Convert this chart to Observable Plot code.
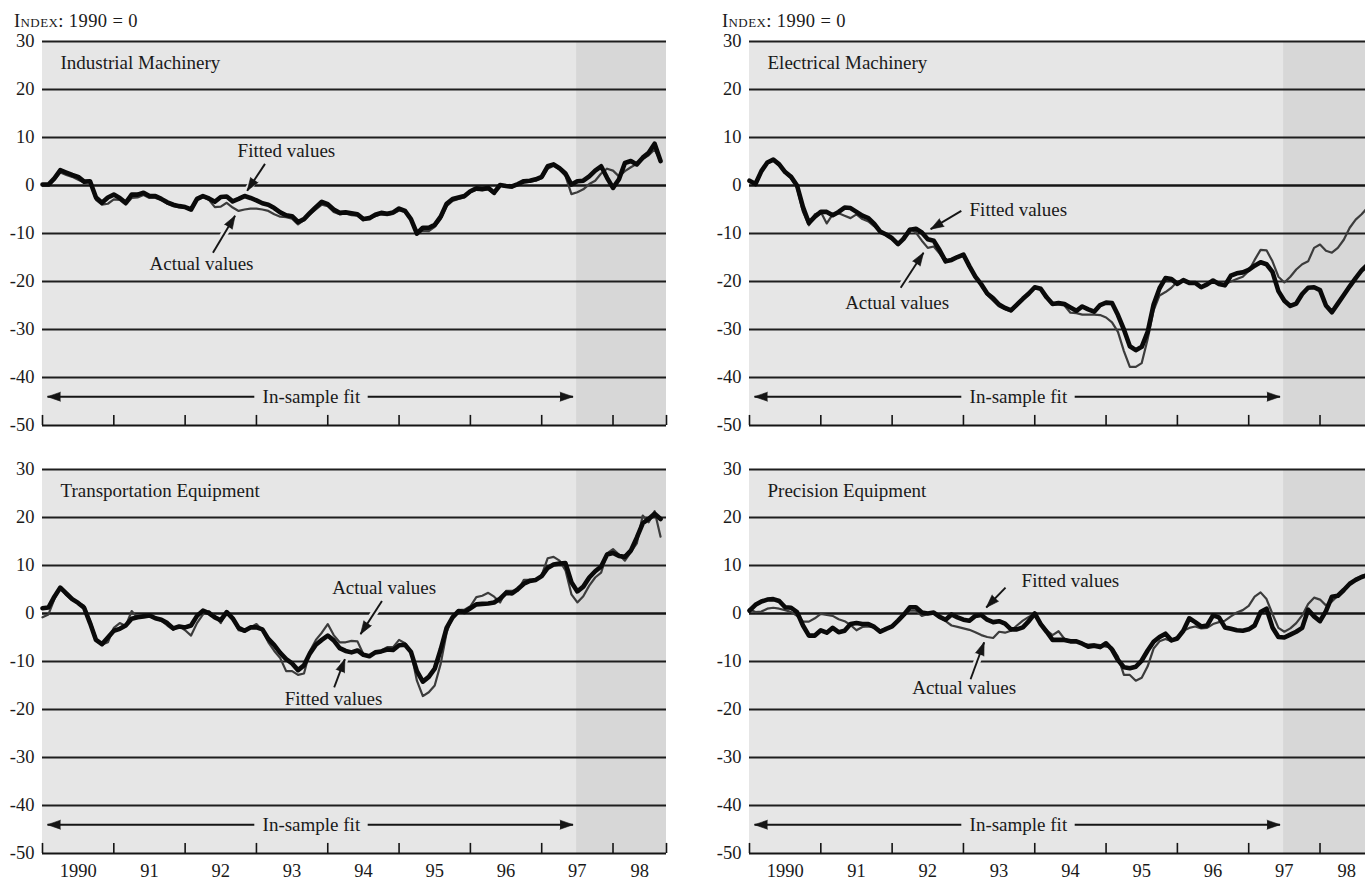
<!DOCTYPE html>
<html><head><meta charset="utf-8">
<script src="https://cdn.jsdelivr.net/npm/d3@7"></script>
<script src="https://cdn.jsdelivr.net/npm/@observablehq/plot@0.6"></script>
<style>
html,body{margin:0;padding:0;background:#fff;overflow:hidden;}
#chart{position:relative;width:1365px;height:880px;overflow:hidden;font-family:"Liberation Serif",serif;color:#1a1a1a;}
.panel{position:absolute;width:668px;}
.unit{position:absolute;font-size:18.5px;font-variant:small-caps;letter-spacing:0.4px;line-height:1;white-space:nowrap;}
</style></head><body><div id="chart"></div>
<script>
// ---- Data (monthly, Jan 1990 onwards) ----
const months = Array.from({length: 105}, (_, i) => 1990 + i / 12);

const industrialFitted = [0.2, 0.2, 1.5, 3.2, 2.7, 2.2, 1.8, 0.8, 0.9, -2.5, -3.6, -2.5,
 -1.9, -2.6, -3.6, -1.9, -1.9, -1.5, -2.2, -2.2, -2.8, -3.5, -4.0, -4.3,
 -4.5, -5.0, -2.8, -2.2, -2.7, -3.4, -2.4, -2.3, -3.3, -2.8, -2.2, -2.6,
 -3.1, -3.7, -4.0, -4.7, -5.6, -6.2, -6.4, -7.6, -7.0, -5.7, -4.5, -3.4,
 -3.9, -5.0, -5.7, -5.6, -5.8, -6.0, -7.0, -6.8, -6.1, -5.7, -5.9, -5.6,
 -4.8, -5.3, -7.0, -10.0, -8.8, -8.8, -8.2, -6.5, -3.8, -2.8, -2.5, -2.2,
 -1.2, -0.6, -0.7, -0.5, -1.5, 0.1, -0.1, -0.2, 0.3, 0.9, 1.0, 1.3,
 1.8, 4.0, 4.4, 3.6, 2.5, 0.2, 0.9, 1.0, 1.9, 3.1, 4.0, 1.6,
 -0.5, 1.3, 4.7, 5.1, 4.4, 5.8, 6.8, 8.7, 5.1];
const industrialActual = [0.0, 0.0, 1.2, 2.7, 2.2, 1.8, 1.2, 0.6, 0.8, -3.0, -4.0, -3.8,
 -2.9, -3.0, -4.0, -2.6, -2.5, -2.0, -2.6, -2.6, -3.0, -3.8, -4.3, -4.5,
 -4.6, -5.2, -3.1, -2.4, -3.0, -4.5, -4.4, -3.6, -4.6, -5.3, -5.0, -4.8,
 -4.8, -5.0, -5.3, -6.0, -6.5, -6.6, -6.9, -8.1, -7.2, -6.0, -5.0, -4.0,
 -4.3, -5.5, -6.0, -5.8, -6.2, -6.3, -7.2, -6.8, -6.4, -6.0, -6.2, -5.9,
 -5.2, -5.5, -7.2, -10.0, -9.4, -9.5, -8.6, -7.0, -4.3, -3.2, -2.8, -2.5,
 -1.4, -0.9, -1.0, -0.8, -1.8, 0.0, -0.3, -0.5, 0.2, 0.6, 0.8, 1.0,
 1.5, 3.5, 4.1, 3.4, 2.0, -1.8, -1.4, -0.8, 0.3, 1.0, 2.5, 3.5,
 3.1, 1.9, 3.0, 3.8, 4.5, 5.5, 6.3, 7.5, 5.0];

const electricalFitted = [1.0, 0.3, 3.0, 4.8, 5.4, 4.4, 2.8, 1.8, 0.0, -4.5, -7.8, -6.5,
 -5.5, -5.5, -6.2, -5.5, -4.6, -4.7, -5.5, -6.3, -6.8, -8.0, -9.6, -10.2,
 -11.0, -12.2, -11.0, -9.2, -9.0, -9.8, -11.2, -11.5, -13.5, -15.8, -15.5, -14.9,
 -14.4, -16.8, -19.0, -20.6, -22.5, -23.5, -24.8, -25.5, -26.0, -24.8, -23.6, -22.5,
 -21.2, -21.5, -23.3, -24.7, -24.5, -24.7, -25.4, -26.1, -25.2, -25.8, -26.3, -24.9,
 -24.4, -24.5, -27.0, -30.0, -33.5, -34.3, -33.6, -30.5, -24.8, -21.4, -19.3, -19.5,
 -20.5, -19.7, -20.3, -20.3, -21.2, -20.6, -19.8, -20.5, -20.8, -18.8, -18.3, -18.1,
 -17.6, -16.7, -16.0, -16.4, -18.0, -22.0, -24.0, -25.1, -24.6, -22.6, -21.3, -21.2,
 -21.8, -25.0, -26.4, -24.6, -22.8, -21.0, -19.3, -17.7, -16.5];
const electricalActual = [1.0, 0.0, 2.8, 4.6, 5.2, 4.2, 2.6, 1.5, -0.5, -5.5, -8.3, -6.0,
 -5.5, -7.9, -6.0, -5.8, -6.3, -6.8, -6.0, -7.0, -7.5, -8.5, -9.8, -10.3,
 -11.2, -12.4, -10.5, -9.0, -9.8, -11.5, -13.0, -12.7, -14.2, -16.0, -15.5, -15.0,
 -14.5, -17.0, -19.2, -20.8, -22.8, -24.0, -25.2, -25.8, -26.2, -25.0, -23.8, -22.6,
 -21.0, -21.8, -23.5, -24.8, -24.8, -25.0, -26.5, -26.6, -26.9, -26.9, -26.9, -27.0,
 -27.5, -28.5, -30.5, -34.5, -37.8, -37.8, -37.0, -32.0, -26.0, -22.9, -22.2, -21.3,
 -20.0, -19.8, -20.3, -20.2, -21.0, -20.5, -19.9, -20.6, -20.6, -20.0, -19.5, -19.0,
 -17.8, -15.5, -13.4, -13.5, -15.8, -19.0, -20.2, -19.0, -17.5, -16.4, -15.8, -13.0,
 -12.3, -13.6, -14.0, -13.0, -11.3, -8.8, -7.1, -6.0, -4.6];

const transportFitted = [1.1, 1.25, 3.5, 5.4, 4.2, 3.0, 2.2, 1.2, -2.0, -5.5, -6.4, -5.0,
 -3.6, -3.2, -2.5, -1.1, -0.8, -0.6, -0.4, -1.0, -1.3, -2.0, -3.1, -2.7,
 -2.9, -2.5, -0.5, 0.6, 0.1, -0.8, -1.4, 0.3, -1.0, -3.0, -3.6, -2.9,
 -2.9, -3.3, -5.3, -6.6, -8.2, -9.5, -10.4, -11.8, -10.8, -8.3, -6.5, -5.5,
 -4.6, -5.6, -7.2, -7.8, -8.1, -7.7, -8.6, -8.9, -8.1, -7.9, -7.5, -7.6,
 -6.6, -6.5, -8.0, -12.0, -14.2, -13.2, -11.5, -7.5, -3.0, -0.8, 0.5, 0.3,
 1.1, 1.9, 2.0, 2.1, 2.3, 3.1, 4.3, 4.2, 5.1, 6.2, 6.8, 7.0,
 7.8, 9.5, 10.2, 10.4, 10.5, 6.5, 4.6, 5.6, 7.5, 8.8, 9.8, 12.3,
 12.6, 12.0, 11.8, 13.1, 15.8, 18.8, 19.7, 20.8, 19.7];
const transportActual = [-0.8, -0.2, 3.0, 5.4, 3.8, 2.8, 2.3, 1.6, -1.5, -5.2, -6.5, -6.0,
 -3.0, -2.0, -2.6, 0.5, -0.9, -0.6, -0.5, -1.1, -1.5, -2.5, -3.4, -2.6,
 -3.5, -4.6, -2.0, -0.2, 0.5, -0.5, -2.0, 0.5, -1.0, -3.5, -3.8, -2.9,
 -2.2, -3.5, -6.0, -7.8, -9.3, -12.0, -12.0, -12.8, -12.5, -7.8, -5.5, -4.0,
 -2.2, -4.5, -6.0, -6.0, -5.7, -5.8, -8.5, -8.8, -8.0, -7.7, -7.0, -7.0,
 -5.5, -6.2, -8.0, -14.0, -17.2, -16.4, -15.0, -10.5, -4.0, -0.6, 0.7, 0.8,
 1.5, 3.4, 3.7, 4.3, 3.5, 2.3, 4.7, 4.7, 4.8, 7.0, 7.0, 6.8,
 8.0, 11.5, 11.8, 11.0, 9.0, 4.0, 2.3, 3.6, 5.8, 7.5, 8.5, 12.5,
 13.4, 12.3, 11.0, 12.8, 14.6, 20.4, 19.0, 21.3, 16.0];

const precisionFitted = [0.6, 1.8, 2.5, 2.9, 3.0, 2.6, 1.3, 1.2, 0.3, -2.5, -4.6, -4.6,
 -3.5, -4.0, -3.0, -3.9, -3.6, -2.2, -2.0, -2.2, -2.2, -2.8, -3.8, -3.2,
 -2.7, -1.5, -0.2, 1.3, 1.3, 0.2, 0.0, 0.2, -0.7, -1.3, -0.2, -0.8,
 -1.3, -1.5, -0.5, -0.3, -1.3, -1.8, -1.6, -2.1, -3.3, -3.3, -2.9, -1.6,
 0.0, -2.2, -3.8, -5.5, -5.5, -5.5, -5.8, -5.8, -6.3, -6.9, -6.7, -7.0,
 -6.2, -7.5, -9.7, -11.2, -11.4, -11.1, -9.8, -7.7, -5.9, -4.9, -4.2, -5.6,
 -5.2, -3.6, -1.0, -1.8, -2.7, -2.5, -0.4, -0.8, -2.9, -3.2, -3.5, -3.6,
 -3.3, -2.5, 0.3, 1.0, -2.9, -4.9, -5.0, -4.4, -3.8, -3.0, 0.8, -0.6,
 -1.6, 0.5, 3.5, 3.7, 4.9, 6.2, 7.0, 7.6, 8.0];
const precisionActual = [0.9, 0.3, 0.4, 1.0, 1.2, 1.0, 0.7, 0.3, -0.5, -1.7, -1.7, -1.0,
 -0.1, -0.3, -0.5, -1.2, -1.6, -2.4, -3.5, -2.8, -2.7, -2.9, -3.5, -3.1,
 -2.5, -1.5, -0.2, 0.6, 0.6, -0.5, -0.1, 0.2, -0.8, -1.6, -2.5, -2.8,
 -3.1, -3.4, -3.9, -4.5, -4.9, -5.1, -3.8, -4.0, -3.6, -2.5, -1.5, -0.7,
 0.0, -1.9, -3.5, -4.5, -3.7, -5.3, -5.7, -5.7, -6.2, -6.5, -6.4, -6.6,
 -6.9, -7.1, -9.0, -12.8, -12.8, -14.0, -13.4, -11.0, -7.3, -5.8, -5.3, -5.8,
 -4.8, -3.6, -3.0, -2.7, -3.1, -3.0, -2.2, -1.8, -1.5, -0.6, 0.2, 0.7,
 1.6, 3.5, 4.4, 3.0, -0.1, -3.0, -3.8, -3.1, -2.0, -0.4, 2.0, 3.3,
 2.9, 1.7, 2.5, 3.7, 4.6, 6.2, 7.2, 7.8, 8.2];

const panelTitles = ["Industrial Machinery", "Electrical Machinery", "Transportation Equipment", "Precision Equipment"];
const yTicks = [30, 20, 10, 0, -10, -20, -30, -40, -50];
const yearTicks = [1990, 1991, 1992, 1993, 1994, 1995, 1996, 1997, 1998, 1998.75];
const yearLabelPos = [1990.5, 1991.5, 1992.5, 1993.5, 1994.5, 1995.5, 1996.5, 1997.5, 1998.375];
const yearLabels = ["1990", "91", "92", "93", "94", "95", "96", "97", "98"];
const unitLabel = "Index: 1990 = 0";
const sampleLabel = "In-sample fit";

// annotations in data units: label centre (tx, ty), arrow from (x1,y1) to tip (x2,y2)
const industrialNotes = [
  {label: "Fitted values", tx: 1993.42, ty: 7.25, x1: 1993.12, y1: 4.5, x2: 1992.87, y2: -1.1},
  {label: "Actual values", tx: 1992.23, ty: -16.3, x1: 1992.39, y1: -14.0, x2: 1992.70, y2: -6.3}];
const electricalNotes = [
  {label: "Fitted values", tx: 1993.77, ty: -5.0, x1: 1992.97, y1: -5.3, x2: 1992.54, y2: -9.1},
  {label: "Actual values", tx: 1992.07, ty: -24.4, x1: 1992.12, y1: -21.3, x2: 1992.44, y2: -14.0}];
const transportNotes = [
  {label: "Actual values", tx: 1994.79, ty: 5.4, x1: 1994.76, y1: 2.6, x2: 1994.46, y2: -4.3},
  {label: "Fitted values", tx: 1994.08, ty: -17.8, x1: 1994.09, y1: -15.4, x2: 1994.24, y2: -9.5}];
const precisionNotes = [
  {label: "Fitted values", tx: 1994.50, ty: 6.8, x1: 1993.59, y1: 5.4, x2: 1993.32, y2: 1.25},
  {label: "Actual values", tx: 1993.01, ty: -15.6, x1: 1993.10, y1: -13.7, x2: 1993.29, y2: -6.0}];
const sampleArrows = [
  {x1: 1992.97, y1: -44, x2: 1990.07, y2: -44},
  {x1: 1994.56, y1: -44, x2: 1997.44, y2: -44}];
const sampleText = [{x: 1993.77, y: -44, t: sampleLabel}];
const xDomain = [1990, 1998.75];
const shadeStart = 1997.49;

// ---- drawing ----
const FW = 624, FH = 384, ML = 42;
const BG = "#e6e6e6", SHADE = "#d7d7d7", INK = "#151515";
const pxX = FW / (xDomain[1] - xDomain[0]), pxY = FH / 80;
const withRot = arr => arr.map(n => ({...n, rot: Math.atan2((n.x2 - n.x1) * pxX, (n.y2 - n.y1) * pxY) * 180 / Math.PI}));
const labelMap = new Map(yearLabelPos.map((p, i) => [p, yearLabels[i]]));

function panel(title, fitted, actual, notesRaw, bottom) {
  const fd = fitted.map((v, i) => ({date: months[i], value: v}));
  const ad = actual.map((v, i) => ({date: months[i], value: v}));
  const notes = withRot(notesRaw);
  const arrows = withRot(sampleArrows);
  const marginTop = bottom ? 29 : 41;
  const marginBottom = bottom ? 27 : 4;
  const marks = [
    Plot.rect([{a: xDomain[0], b: xDomain[1]}], {x1: "a", x2: "b", y1: -50, y2: 30, fill: BG}),
    Plot.rect([{a: shadeStart, b: xDomain[1]}], {x1: "a", x2: "b", y1: -50, y2: 30, fill: SHADE}),
    Plot.ruleY(yTicks.filter(v => v !== 0 && v !== -50), {stroke: "#1e1e1e", strokeWidth: 1.8}),
    Plot.ruleY([0], {stroke: INK, strokeWidth: 2.6}),
    Plot.ruleY([-50], {stroke: INK, strokeWidth: 2}),
    Plot.ruleX(yearTicks, {y1: -50, y2: -47.9, stroke: INK, strokeWidth: 1.6}),
    Plot.axisY(yTicks, {tickSize: 0, tickPadding: 8, tickFormat: d => String(d), fontSize: 18.5}),
    Plot.link(notes, {x1: "x1", y1: "y1", x2: "x2", y2: "y2", stroke: BG, strokeWidth: 7}),
    Plot.line(ad, {x: "date", y: "value", stroke: "#3c3c3c", strokeWidth: 2.2}),
    Plot.line(fd, {x: "date", y: "value", stroke: "#0a0a0a", strokeWidth: 4.6}),
    Plot.link(notes, {x1: "x1", y1: "y1", x2: "x2", y2: "y2", stroke: INK, strokeWidth: 1.9}),
    Plot.vector(notes, {x: "x2", y: "y2", rotate: "rot", length: 13, anchor: "end", shape: "spike", r: 4.5, fill: INK, stroke: INK, strokeWidth: 0.6}),
    Plot.text(notes, {x: "tx", y: "ty", text: "label", fontSize: 19, fill: "#1a1a1a"}),
    Plot.link(arrows, {x1: "x1", y1: "y1", x2: "x2", y2: "y2", stroke: INK, strokeWidth: 1.9}),
    Plot.vector(arrows, {x: "x2", y: "y2", rotate: "rot", length: 13, anchor: "end", shape: "spike", r: 4.5, fill: INK, stroke: INK, strokeWidth: 0.6}),
    Plot.text(sampleText, {x: "x", y: "y", text: "t", fontSize: 19, fill: "#1a1a1a"}),
    Plot.text([title], {frameAnchor: "top-left", dx: 18, dy: 21, textAnchor: "start", lineAnchor: "middle", fontSize: 19, fill: "#1a1a1a"})
  ];
  if (bottom) marks.push(Plot.axisX(yearLabelPos, {tickSize: 0, tickPadding: 10, tickFormat: d => labelMap.get(d), fontSize: 18.5}));
  return Plot.plot({
    width: ML + FW + 2,
    height: marginTop + FH + marginBottom,
    marginLeft: ML, marginRight: 2, marginTop, marginBottom,
    x: {domain: xDomain, axis: bottom ? undefined : null},
    y: {domain: [-50, 30]},
    style: {fontFamily: "Liberation Serif, serif", fontSize: "18px", background: "transparent", color: "#1a1a1a", maxWidth: "none", overflow: "visible"},
    marks
  });
}

const chart = document.getElementById("chart");
function place(node, left, top) {
  const d = document.createElement("div");
  d.className = "panel"; d.style.left = left + "px"; d.style.top = top + "px";
  d.appendChild(node); chart.appendChild(d);
}
function unit(left) {
  const d = document.createElement("div");
  d.className = "unit"; d.style.left = left + "px"; d.style.top = "12px";
  d.textContent = unitLabel; chart.appendChild(d);
}
unit(14); unit(722);
place(panel(panelTitles[0], industrialFitted, industrialActual, industrialNotes, false), 0, 0);
place(panel(panelTitles[1], electricalFitted, electricalActual, electricalNotes, false), 707, 0);
place(panel(panelTitles[2], transportFitted, transportActual, transportNotes, true), 0, 440);
place(panel(panelTitles[3], precisionFitted, precisionActual, precisionNotes, true), 707, 440);
</script></body></html>
